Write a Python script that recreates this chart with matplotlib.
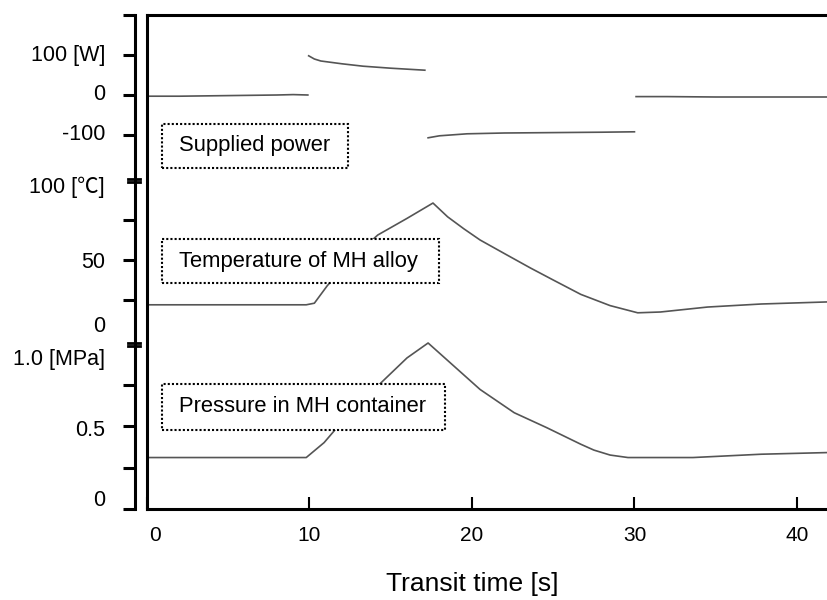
import numpy as np
import matplotlib
matplotlib.use('Agg')
import matplotlib.pyplot as plt
from matplotlib.patches import Rectangle
import matplotlib.transforms as mtransforms

plt.rcParams['font.family'] = ['Liberation Sans', 'Noto Sans CJK JP', 'DejaVu Sans']

# supplied power [W], four separate pieces
pw1_t = [0, 2, 4, 6, 8, 9, 9.9]
pw1_w = [-3, -3, -2, -1, 0, 1, 0]
pw2_t = [9.95, 10.3, 10.7, 12, 13.3, 15, 17.1]
pw2_w = [98, 90, 85, 78, 72, 67, 62]
pw3_t = [17.3, 18, 19.7, 22, 25, 28, 30]
pw3_w = [-107, -102, -97, -95, -94, -93, -92]
pw4_t = [30.1, 32, 35, 38, 41.9]
pw4_w = [-4, -4, -5, -5, -5]

# temperature of MH alloy [C]
temp_t = [0, 5, 9.8, 10.3, 11.1, 12.5, 14.2, 16, 17.6, 18.5, 19.5, 20.5, 22, 23.6,
          25, 26.7, 28.5, 30.2, 31.6, 34.5, 37.8, 41.9]
temp_c = [22, 22, 22, 23, 34, 50, 65.6, 76, 85.6, 77, 69.5, 62.5, 54, 45,
          37.5, 28.5, 21.5, 17, 17.5, 20.6, 22.5, 23.8]

# pressure in MH container [MPa]
pres_t = [0, 5, 9.8, 10.9, 11.6, 13, 14.4, 16.0, 17.3, 18.9, 20.5, 22.6, 24.6,
          26.7, 27.5, 28.5, 29.6, 33.6, 37.8, 41.9]
pres_v = [0.31, 0.31, 0.31, 0.40, 0.48, 0.62, 0.76, 0.91, 1.0, 0.86, 0.72, 0.58, 0.49,
          0.39, 0.355, 0.325, 0.31, 0.31, 0.33, 0.34]

x_ticks = [0, 10, 20, 30, 40]


# stacked panels share one axis: map each quantity to a common height
def u_pw(w):
    return 414 + 0.4 * np.asarray(w, dtype=float)


def u_tc(c):
    return 169 + 1.6 * np.asarray(c, dtype=float)


def u_pr(p):
    return 166 * np.asarray(p, dtype=float)


fig = plt.figure(figsize=(8.27, 6.0), dpi=100)
ax = fig.add_axes([147 / 827, 91 / 600, 680 / 827, 494 / 600])
ax.set_xlim(0, 41.85)
ax.set_ylim(0, 494)

lc = '#555555'
for t, w in [(pw1_t, pw1_w), (pw2_t, pw2_w), (pw3_t, pw3_w), (pw4_t, pw4_w)]:
    ax.plot(t, u_pw(w), color=lc, lw=1.2)
ax.plot(temp_t, u_tc(temp_c), color=lc, lw=1.2)
ax.plot(pres_t, u_pr(pres_v), color=lc, lw=1.2)

# spines
for s in ['top', 'bottom', 'left']:
    ax.spines[s].set_linewidth(2.2)
ax.spines['right'].set_visible(False)
ax.spines['left'].set_position(('outward', 9))
ax.axvline(0, color='black', lw=2.2, clip_on=False)

yt = list(u_pw([200, 100, 0, -100])) + list(u_tc([75, 50, 25])) + list(u_pr([0.75, 0.5, 0.25, 0]))
ax.set_yticks(yt)
ax.set_yticklabels([''] * len(yt))
ax.tick_params(axis='y', direction='out', length=9, width=2.2)

ax.set_xticks(x_ticks)
ax.set_xticklabels([str(v) for v in x_ticks], fontsize=15)
ax.tick_params(axis='x', direction='in', length=9, width=1.5, pad=12)
ax.get_xticklabels()[0].set_transform(
    ax.get_xticklabels()[0].get_transform() + mtransforms.ScaledTranslation(8 / 100, 0, fig.dpi_scale_trans))

ax.set_xlabel('Transit time [s]', fontsize=19)
ax.xaxis.set_label_coords((472 - 147) / 680, -(572 - 509) / 494)

# axis break marks
btr = mtransforms.blended_transform_factory(ax.transAxes, ax.transData)
bx = [(128 - 147) / 680, (140 - 147) / 680]
for yb in [u_tc(100) + 1.5, u_tc(100) - 1.5, u_pr(1.0), u_pr(1.0) - 3]:
    ax.plot(bx, [yb, yb], color='black', lw=2, transform=btr, clip_on=False)

# left labels
lx = (105 - 147) / 680
labels = [('100 [W]', u_pw(100)), ('0', u_pw(0)), ('-100', u_pw(-100)),
          ('100 [℃]', u_tc(100) - 7), ('50', u_tc(50) - 2), ('0', u_tc(0) + 13),
          ('1.0 [MPa]', u_pr(1.0) - 17), ('0.5', u_pr(0.5) - 4), ('0', u_pr(0) + 9)]
for txt, yy in labels:
    ax.text(lx, yy, txt, transform=btr, ha='right', va='center', fontsize=15.5)

# dotted label boxes
boxes = [('Supplied power', 0.95, 12.4, 341, 385),
         ('Temperature of MH alloy', 0.95, 18.0, 226, 270),
         ('Pressure in MH container', 0.95, 18.37, 79, 125)]
for txt, x0, x1, y0, y1 in boxes:
    ax.add_patch(Rectangle((x0, y0), x1 - x0, y1 - y0, facecolor='white', edgecolor='black',
                           lw=1.5, ls=(0, (1, 1)), zorder=3))
    ax.text(1.94, (y0 + y1) / 2, txt, ha='left', va='center', fontsize=15.8, zorder=4)

fig.savefig('out.png', dpi=100)
